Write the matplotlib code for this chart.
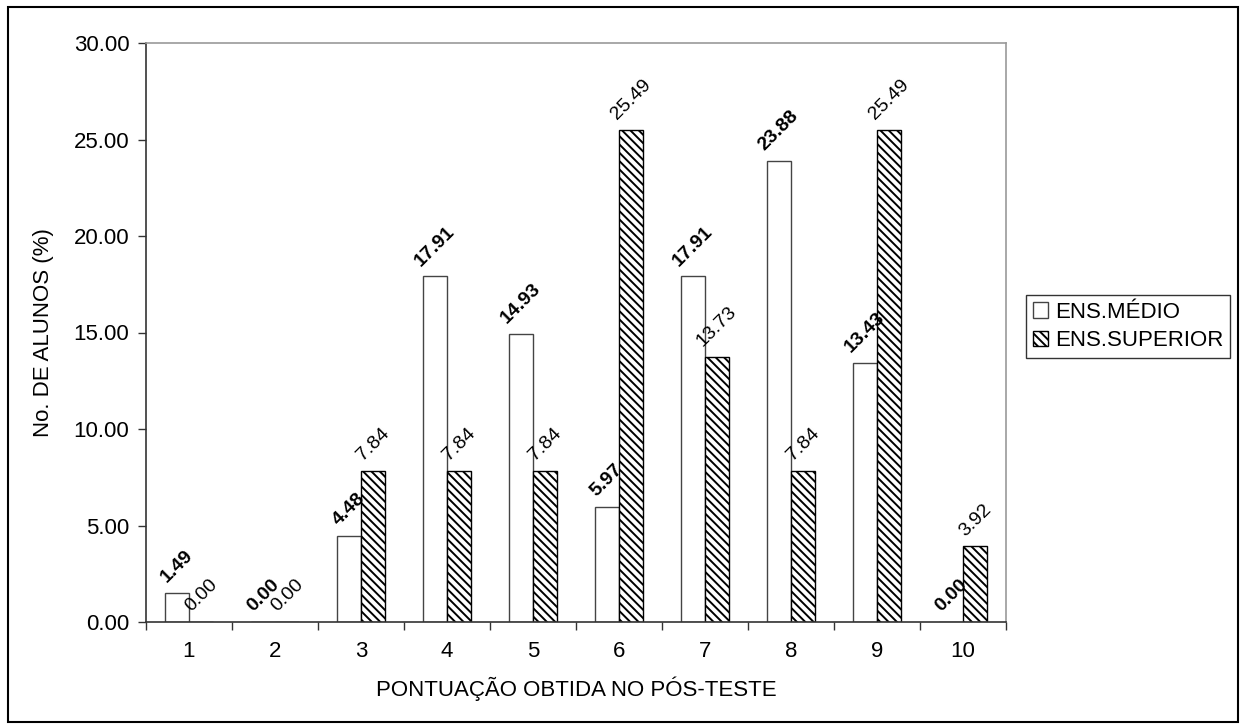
import matplotlib.pyplot as plt
import numpy as np

plt.rcParams['font.family'] = ['Liberation Sans', 'DejaVu Sans']
plt.rcParams['hatch.linewidth'] = 1.4

# Pontuação obtida no pós-teste (1 a 10) e percentual de alunos
pontuacao = [1, 2, 3, 4, 5, 6, 7, 8, 9, 10]
ens_medio = [1.49, 0.00, 4.48, 17.91, 14.93, 5.97, 17.91, 23.88, 13.43, 0.00]
ens_superior = [0.00, 0.00, 7.84, 7.84, 7.84, 25.49, 13.73, 7.84, 25.49, 3.92]
yticks = [0, 5, 10, 15, 20, 25, 30]

fig = plt.figure(figsize=(12.4, 7.25), dpi=100)
ax = fig.add_axes([146 / 1240, 103 / 725, 860 / 1240, 579 / 725])

x = np.array(pontuacao)
largura = 0.28

b1 = ax.bar(x - largura / 2, ens_medio, largura, color='white',
            edgecolor='#444444', linewidth=1.0, label='ENS.MÉDIO', zorder=2)
b2 = ax.bar(x + largura / 2, ens_superior, largura, color='white',
            edgecolor='black', hatch='\\\\\\\\', linewidth=1.0,
            label='ENS.SUPERIOR', zorder=2)

# valores em cima das barras, inclinados
for xi, v in zip(x - largura / 2, ens_medio):
    ax.annotate(f'{v:.2f}', (xi, v), textcoords='offset points', xytext=(0, 5),
                ha='center', va='bottom', rotation=45, fontsize=14,
                fontweight='bold', zorder=4)
for xi, v in zip(x + largura / 2, ens_superior):
    ax.annotate(f'{v:.2f}', (xi, v), textcoords='offset points', xytext=(0, 5),
                ha='center', va='bottom', rotation=45, fontsize=14, zorder=4)

ax.set_xlim(0.5, 10.5)
ax.set_ylim(0, 30)
ax.set_yticks(yticks)
ax.set_yticklabels([f'{t:.2f}' for t in yticks])
ax.set_xticks(x)
ax.set_xticklabels([str(p) for p in pontuacao])
ax.set_xticks(np.arange(0.5, 11, 1), minor=True)
ax.tick_params(axis='x', which='major', length=0, pad=14, labelsize=16)
ax.tick_params(axis='x', which='minor', length=6, width=1, color='#333333')
ax.tick_params(axis='y', length=6, width=1, color='#333333', labelsize=16, pad=6)

ax.spines['left'].set_color('#333333')
ax.spines['bottom'].set_color('#333333')
ax.spines['top'].set_color('#999999')
ax.spines['right'].set_color('#999999')
for s in ax.spines.values():
    s.set_linewidth(1.2)

ax.set_xlabel('PONTUAÇÃO OBTIDA NO PÓS-TESTE', fontsize=16, labelpad=10)
ax.set_ylabel('No. DE ALUNOS (%)', fontsize=16, labelpad=14)

leg = fig.legend(handles=[b1, b2], loc='upper left',
                 bbox_to_anchor=(1026 / 1240, 1 - 295 / 725),
                 fontsize=16, frameon=True, fancybox=False,
                 handlelength=0.7, handleheight=0.7, handletextpad=0.3,
                 borderpad=0.3, labelspacing=0.35, borderaxespad=0)
leg.get_frame().set_edgecolor('black')
leg.get_frame().set_linewidth(1.0)

# moldura externa do gráfico
fig.patches.append(plt.Rectangle((8 / 1240, 3 / 725), 1230 / 1240, 715 / 725,
                                 transform=fig.transFigure, fill=False,
                                 edgecolor='black', linewidth=1.5))

fig.savefig('out.png', dpi=100)
